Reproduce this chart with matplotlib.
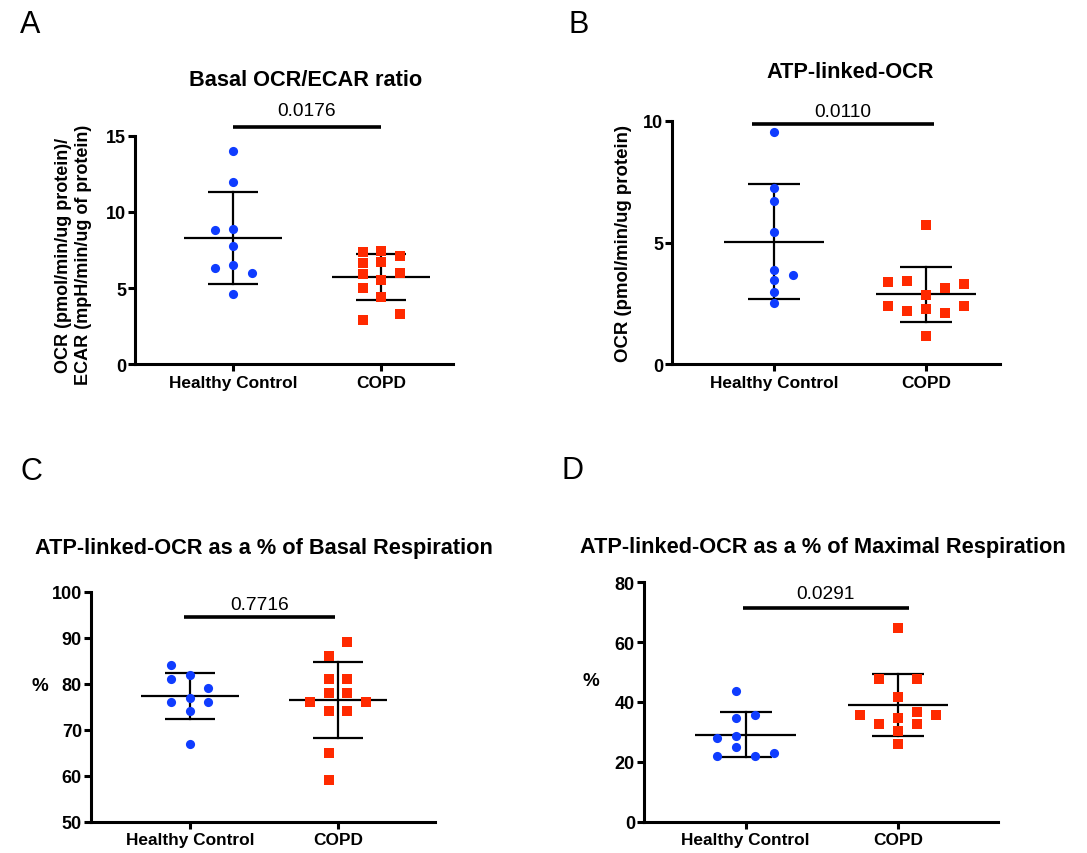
import numpy as np
import matplotlib
matplotlib.use("Agg")
import matplotlib.pyplot as plt

plt.rcParams['font.family'] = ['Liberation Sans', 'DejaVu Sans']

W, H = 1087, 854

# ---------------- data ----------------
categories = ["Healthy Control", "COPD"]

# Panel A: Basal OCR/ECAR ratio
a_healthy = [14.0, 11.94, 8.81, 8.90, 7.74, 6.32, 6.49, 5.97, 4.59]
a_copd = [7.39, 7.46, 7.13, 6.67, 6.74, 5.95, 6.01, 5.55, 5.03, 4.44, 2.93, 3.32]
a_p = "0.0176"

# Panel B: ATP-linked OCR
b_healthy = [9.53, 7.25, 6.70, 5.44, 3.87, 3.67, 3.45, 2.95, 2.50]
b_copd = [5.73, 3.39, 3.43, 3.15, 3.31, 2.85, 2.41, 2.41, 2.20, 2.27, 2.11, 1.18]
b_p = "0.0110"

# Panel C: ATP-linked OCR as % of basal respiration
c_healthy = [84, 82, 81, 79, 77, 76, 76, 74, 67]
c_copd = [89, 86, 81, 81, 78, 78, 76, 76, 74, 74, 65, 59]
c_p = "0.7716"

# Panel D: ATP-linked OCR as % of maximal respiration
d_healthy = [43.8, 34.8, 35.8, 27.9, 28.7, 24.8, 21.8, 21.8, 22.8]
d_copd = [64.7, 47.7, 47.7, 41.6, 35.7, 35.7, 36.8, 34.8, 32.8, 32.8, 30.2, 26.0]
d_p = "0.0291"

# ---------------- layout (swarm slots, in steps of 0.125 category units) ----------------
a_slots = ([0, 0, -1, 0, 0, -1, 0, 1, 0],
           [-1, 0, 1, -1, 0, -1, 1, 0, -1, 0, -1, 1])
b_slots = ([0, 0, 0, 0, 0, 1, 0, 0, 0],
           [0, -2, -1, 1, 2, 0, -2, 2, -1, 0, 1, 0])
c_slots = ([-1, 0, -1, 1, 0, -1, 1, 0, 0],
           [0.5, -0.5, -0.5, 0.5, -0.5, 0.5, -1.5, 1.5, -0.5, 0.5, -0.5, -0.5])
d_slots = ([-0.5, -0.5, 0.5, -1.5, -0.5, -0.5, -1.5, 0.5, 1.5],
           [0, -1, 1, 0, -2, 2, 1, 0, -1, 1, 0, 0])

STEP = 0.125
BLUE = '#0f3cff'
RED = '#ff2a00'

panels = [
    dict(letter='A', letter_xy=(20, 33), title='Basal OCR/ECAR ratio', title_xy=(306, 86),
         box=(135, 136.7, 453, 365.3), cat_px=(233, 381), ylim=(0, 15), yticks=[0, 5, 10, 15],
         data=(a_healthy, a_copd), slots=a_slots, p=a_p, bar_y=15.6, bar_x=(0.0, 1.0), ptext_off=11.5,
         ylabel='OCR (pmol/min/ug protein)/\nECAR (mpH/min/ug of protein)', ylabel_xy=(73.5, 255),
         ylabel_rot=90, ylabel_fs=13.0),
    dict(letter='B', letter_xy=(568, 33), title='ATP-linked-OCR', title_xy=(850, 78),
         box=(672, 121.7, 1000, 365.3), cat_px=(774, 926), ylim=(0, 10), yticks=[0, 5, 10],
         data=(b_healthy, b_copd), slots=b_slots, p=b_p, bar_y=9.85, bar_x=(-0.145, 1.05), ptext_off=9,
         ylabel='OCR (pmol/min/ug protein)', ylabel_xy=(623, 244), ylabel_rot=90, ylabel_fs=13.4),
    dict(letter='C', letter_xy=(20, 480), title='ATP-linked-OCR as a % of Basal Respiration',
         title_xy=(264, 554),
         box=(91, 592.7, 435, 822.7), cat_px=(190, 338), ylim=(50, 100), yticks=[50, 60, 70, 80, 90, 100],
         data=(c_healthy, c_copd), slots=c_slots, p=c_p, bar_y=94.4, bar_x=(-0.04, 0.98), ptext_off=9,
         ylabel='%', ylabel_xy=(40, 687), ylabel_rot=0, ylabel_fs=13.5),
    dict(letter='D', letter_xy=(562, 479), title='ATP-linked-OCR as a % of Maximal Respiration',
         title_xy=(823, 553),
         box=(644, 583.3, 998, 822.7), cat_px=(745.7, 898), ylim=(0, 80), yticks=[0, 20, 40, 60, 80],
         data=(d_healthy, d_copd), slots=d_slots, p=d_p, bar_y=71.3, bar_x=(-0.02, 1.07), ptext_off=10.5,
         ylabel='%', ylabel_xy=(591, 682), ylabel_rot=0, ylabel_fs=13.5),
]

fig = plt.figure(figsize=(W / 100, H / 100), dpi=100)

for pnl in panels:
    l, t, r, b = pnl['box']
    ax = fig.add_axes([l / W, 1 - b / H, (r - l) / W, (b - t) / H])
    c0, c1 = pnl['cat_px']
    sp = c1 - c0
    ax.set_xlim((l - c0) / sp, (r - c0) / sp)
    ax.set_ylim(*pnl['ylim'])
    ax.set_yticks(pnl['yticks'])
    ax.set_xticks([0, 1])
    ax.set_xticklabels(categories, fontsize=12.4, fontweight='bold')
    for lab in ax.get_yticklabels():
        lab.set_fontweight('bold')
        lab.set_fontsize(13)
    for s in ['top', 'right']:
        ax.spines[s].set_visible(False)
    for s in ['left', 'bottom']:
        ax.spines[s].set_linewidth(2.2)
    ax.tick_params(axis='both', width=2.2, length=5)
    ax.tick_params(axis='y', pad=1.5)
    ax.tick_params(axis='x', pad=2.5)

    markers = ['o', 's']
    colors = [BLUE, RED]
    msizes = [6.6, 7.0]
    for i, (vals, slots) in enumerate(zip(pnl['data'], pnl['slots'])):
        vals = np.asarray(vals, dtype=float)
        xs = i + np.asarray(slots) * STEP
        m = vals.mean()
        sd = vals.std(ddof=1)
        ax.plot([i - 0.33, i + 0.33], [m, m], color='black', lw=1.6, zorder=2, solid_capstyle='butt')
        ax.plot([i, i], [m - sd, m + sd], color='black', lw=1.6, zorder=2)
        ax.plot([i - 0.17, i + 0.17], [m + sd, m + sd], color='black', lw=1.6, zorder=2, solid_capstyle='butt')
        ax.plot([i - 0.17, i + 0.17], [m - sd, m - sd], color='black', lw=1.6, zorder=2, solid_capstyle='butt')
        ax.plot(xs, vals, linestyle='none', marker=markers[i], color=colors[i],
                markersize=msizes[i], markeredgewidth=0, zorder=3, clip_on=False)

    bx0, bx1 = pnl['bar_x']
    ax.plot([bx0, bx1], [pnl['bar_y'], pnl['bar_y']], color='black', lw=2.6,
            clip_on=False, solid_capstyle='butt', zorder=4)
    ax.annotate(pnl['p'], xy=((bx0 + bx1) / 2, pnl['bar_y']), xytext=(0, pnl['ptext_off']),
                textcoords='offset points', ha='center', va='center', fontsize=13.8,
                annotation_clip=False)

    fig.text(pnl['title_xy'][0] / W, 1 - pnl['title_xy'][1] / H, pnl['title'],
             ha='center', va='baseline', fontsize=15.7, fontweight='bold')
    fig.text(pnl['letter_xy'][0] / W, 1 - pnl['letter_xy'][1] / H, pnl['letter'],
             ha='left', va='baseline', fontsize=22)
    fig.text(pnl['ylabel_xy'][0] / W, 1 - pnl['ylabel_xy'][1] / H, pnl['ylabel'],
             ha='center', va='center', rotation=pnl['ylabel_rot'], fontsize=pnl['ylabel_fs'],
             fontweight='bold', linespacing=1.27, multialignment='center')

fig.savefig('out.png', dpi=100)
